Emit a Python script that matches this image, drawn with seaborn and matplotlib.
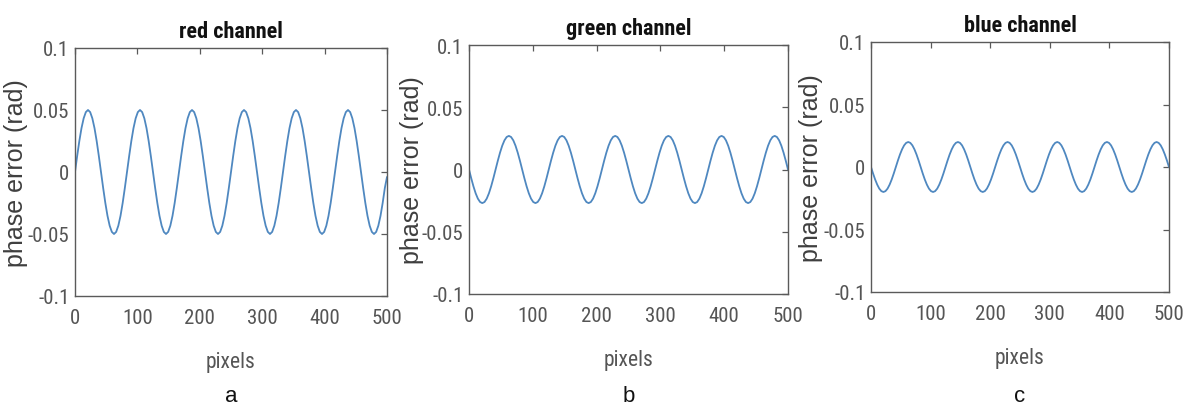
import numpy as np
import pandas as pd
import seaborn as sns
import matplotlib
matplotlib.use("Agg")
import matplotlib.pyplot as plt

# ---- data ----
panel_titles = ["red channel", "green channel", "blue channel"]
panel_letters = ["a", "b", "c"]
x_ticks = [0, 100, 200, 300, 400, 500]
y_ticks = [-0.1, -0.05, 0, 0.05, 0.1]
y_tick_labels = ["-0.1", "-0.05", "0", "0.05", "0.1"]

red_error = [
    0.0, 0.0129, 0.0250, 0.0354, 0.0433, 0.0483, 0.0500, 0.0483, 0.0433, 0.0354, 0.0250, 0.0129,
    0.0, -0.0129, -0.0250, -0.0354, -0.0433, -0.0483, -0.0500, -0.0483, -0.0433, -0.0354, -0.0250, -0.0129,
    0.0, 0.0129, 0.0250, 0.0354, 0.0433, 0.0483, 0.0500, 0.0483, 0.0433, 0.0354, 0.0250, 0.0129,
    0.0, -0.0129, -0.0250, -0.0354, -0.0433, -0.0483, -0.0500, -0.0483, -0.0433, -0.0354, -0.0250, -0.0129,
    0.0, 0.0129, 0.0250, 0.0354, 0.0433, 0.0483, 0.0500, 0.0483, 0.0433, 0.0354, 0.0250, 0.0129,
    0.0, -0.0129, -0.0250, -0.0354, -0.0433, -0.0483, -0.0500, -0.0483, -0.0433, -0.0354, -0.0250, -0.0129,
    0.0, 0.0129, 0.0250, 0.0354, 0.0433, 0.0483, 0.0500, 0.0483, 0.0433, 0.0354, 0.0250, 0.0129,
    0.0, -0.0129, -0.0250, -0.0354, -0.0433, -0.0483, -0.0500, -0.0483, -0.0433, -0.0354, -0.0250, -0.0129,
    0.0, 0.0129, 0.0250, 0.0354, 0.0433, 0.0483, 0.0500, 0.0483, 0.0433, 0.0354, 0.0250, 0.0129,
    0.0, -0.0129, -0.0250, -0.0354, -0.0433, -0.0483, -0.0500, -0.0483, -0.0433, -0.0354, -0.0250, -0.0129,
    0.0, 0.0129, 0.0250, 0.0354, 0.0433, 0.0483, 0.0500, 0.0483, 0.0433, 0.0354, 0.0250, 0.0129,
    0.0, -0.0129, -0.0250, -0.0354, -0.0433, -0.0483, -0.0500, -0.0483, -0.0433, -0.0354, -0.0250, -0.0129,
    -0.004,
]

green_error = [
    0.0, -0.0070, -0.0135, -0.0191, -0.0234, -0.0261, -0.0270, -0.0261, -0.0234, -0.0191, -0.0135, -0.0070,
    0.0, 0.0070, 0.0135, 0.0191, 0.0234, 0.0261, 0.0270, 0.0261, 0.0234, 0.0191, 0.0135, 0.0070,
    0.0, -0.0070, -0.0135, -0.0191, -0.0234, -0.0261, -0.0270, -0.0261, -0.0234, -0.0191, -0.0135, -0.0070,
    0.0, 0.0070, 0.0135, 0.0191, 0.0234, 0.0261, 0.0270, 0.0261, 0.0234, 0.0191, 0.0135, 0.0070,
    0.0, -0.0070, -0.0135, -0.0191, -0.0234, -0.0261, -0.0270, -0.0261, -0.0234, -0.0191, -0.0135, -0.0070,
    0.0, 0.0070, 0.0135, 0.0191, 0.0234, 0.0261, 0.0270, 0.0261, 0.0234, 0.0191, 0.0135, 0.0070,
    0.0, -0.0070, -0.0135, -0.0191, -0.0234, -0.0261, -0.0270, -0.0261, -0.0234, -0.0191, -0.0135, -0.0070,
    0.0, 0.0070, 0.0135, 0.0191, 0.0234, 0.0261, 0.0270, 0.0261, 0.0234, 0.0191, 0.0135, 0.0070,
    0.0, -0.0070, -0.0135, -0.0191, -0.0234, -0.0261, -0.0270, -0.0261, -0.0234, -0.0191, -0.0135, -0.0070,
    0.0, 0.0070, 0.0135, 0.0191, 0.0234, 0.0261, 0.0270, 0.0261, 0.0234, 0.0191, 0.0135, 0.0070,
    0.0, -0.0070, -0.0135, -0.0191, -0.0234, -0.0261, -0.0270, -0.0261, -0.0234, -0.0191, -0.0135, -0.0070,
    0.0, 0.0070, 0.0135, 0.0191, 0.0234, 0.0261, 0.0270, 0.0261, 0.0234, 0.0191, 0.0135, 0.0070,
    0.0,
]

blue_error = [
    0.0, -0.0052, -0.0100, -0.0141, -0.0173, -0.0193, -0.0200, -0.0193, -0.0173, -0.0141, -0.0100, -0.0052,
    0.0, 0.0052, 0.0100, 0.0141, 0.0173, 0.0193, 0.0200, 0.0193, 0.0173, 0.0141, 0.0100, 0.0052,
    0.0, -0.0052, -0.0100, -0.0141, -0.0173, -0.0193, -0.0200, -0.0193, -0.0173, -0.0141, -0.0100, -0.0052,
    0.0, 0.0052, 0.0100, 0.0141, 0.0173, 0.0193, 0.0200, 0.0193, 0.0173, 0.0141, 0.0100, 0.0052,
    0.0, -0.0052, -0.0100, -0.0141, -0.0173, -0.0193, -0.0200, -0.0193, -0.0173, -0.0141, -0.0100, -0.0052,
    0.0, 0.0052, 0.0100, 0.0141, 0.0173, 0.0193, 0.0200, 0.0193, 0.0173, 0.0141, 0.0100, 0.0052,
    0.0, -0.0052, -0.0100, -0.0141, -0.0173, -0.0193, -0.0200, -0.0193, -0.0173, -0.0141, -0.0100, -0.0052,
    0.0, 0.0052, 0.0100, 0.0141, 0.0173, 0.0193, 0.0200, 0.0193, 0.0173, 0.0141, 0.0100, 0.0052,
    0.0, -0.0052, -0.0100, -0.0141, -0.0173, -0.0193, -0.0200, -0.0193, -0.0173, -0.0141, -0.0100, -0.0052,
    0.0, 0.0052, 0.0100, 0.0141, 0.0173, 0.0193, 0.0200, 0.0193, 0.0173, 0.0141, 0.0100, 0.0052,
    0.0, -0.0052, -0.0100, -0.0141, -0.0173, -0.0193, -0.0200, -0.0193, -0.0173, -0.0141, -0.0100, -0.0052,
    0.0, 0.0052, 0.0100, 0.0141, 0.0173, 0.0193, 0.0200, 0.0193, 0.0173, 0.0141, 0.0100, 0.0052,
    0.0,
]

pixel_positions = np.linspace(0, 500, len(red_error))
series = [red_error, green_error, blue_error]

# ---- styling ----
sns.set_theme(style="white")
plt.rcParams["font.family"] = ["Liberation Sans", "DejaVu Sans"]
narrow = ["Liberation Sans Narrow", "Roboto Condensed", "Liberation Sans", "DejaVu Sans"]

W, H = 1191, 410
fig = plt.figure(figsize=(W / 100, H / 100), dpi=100)
fig.patch.set_facecolor("white")

# axes boxes in pixels: (left, top, right, bottom)
boxes = [(75, 49, 387, 297), (469, 46, 788, 295), (871, 43, 1169, 293)]
ylabel_x = [16, 412, 811]

line_color = "#4f88c0"
spine_color = "#5a5a5a"
tick_color = "#555555"

for i, (title, letter, vals, box) in enumerate(zip(panel_titles, panel_letters, series, boxes)):
    l, t, r, b = box
    ax = fig.add_axes([l / W, 1 - b / H, (r - l) / W, (b - t) / H])
    df = pd.DataFrame({"pixels": pixel_positions, "phase": vals})
    sns.lineplot(data=df, x="pixels", y="phase", ax=ax, color=line_color, linewidth=1.3)
    ax.set_xlim(0, 500)
    ax.set_ylim(-0.1, 0.1)
    ax.set_xticks(x_ticks)
    ax.set_xticklabels([str(v) for v in x_ticks])
    ax.set_yticks(y_ticks)
    ax.set_yticklabels(y_tick_labels)
    for s in ax.spines.values():
        s.set_visible(True)
        s.set_color(spine_color)
        s.set_linewidth(1.0)
    ax.tick_params(axis="both", which="major", direction="in", length=4, width=0.9,
                   color=spine_color, top=True, right=True, labelcolor=tick_color,
                   labelsize=15)
    ax.tick_params(axis="x", pad=9)
    ax.tick_params(axis="y", pad=4)
    for lab in ax.get_xticklabels() + ax.get_yticklabels():
        lab.set_family(narrow)
    ax.set_title(title, fontsize=16, fontweight="bold", family=narrow, color="#111111", pad=8)
    ax.set_xlabel("pixels", fontsize=15.5, family=narrow, color=tick_color, labelpad=17)
    ax.set_ylabel("")
    fig.text(ylabel_x[i] / W, 1 - ((t + b) / 2) / H, "phase error (rad)", rotation=90,
             ha="center", va="center", fontsize=18, color="#3f3f3f")
    fig.text(((l + r) / 2) / W, 1 - 397 / H, letter, ha="center", va="center",
             fontsize=16, color="#111111")

fig.savefig("out.png", dpi=100, facecolor="white")
